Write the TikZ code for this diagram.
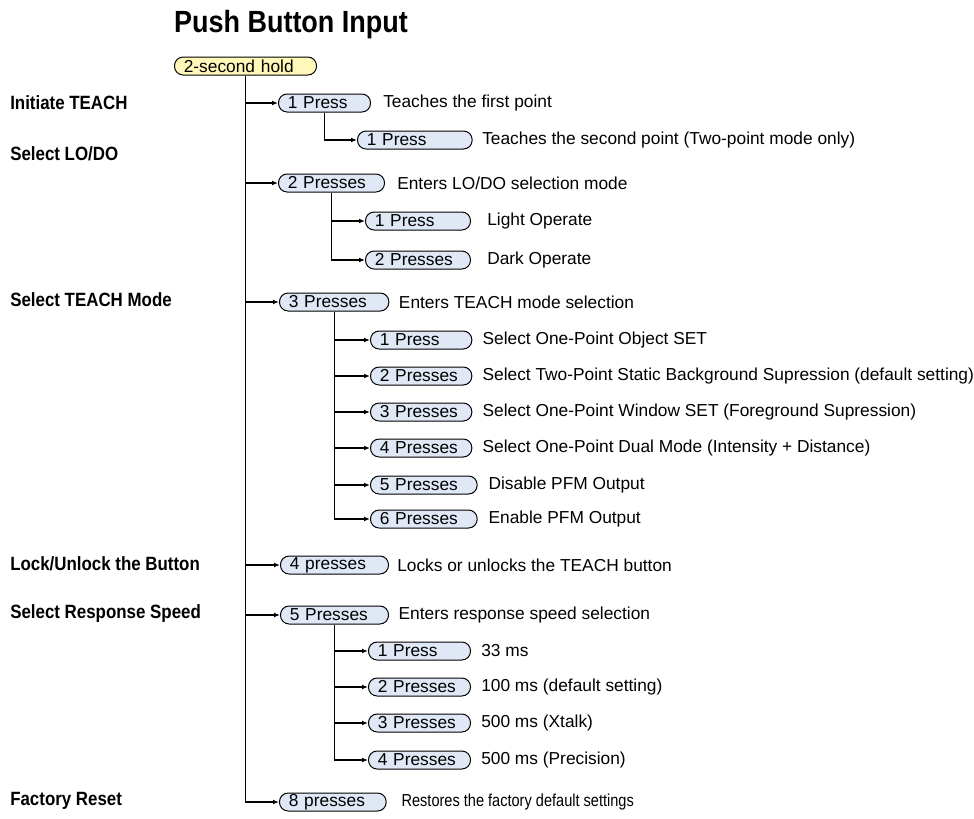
\documentclass[tikz,border=0pt]{standalone}
\usepackage{fontspec}
\setmainfont{Liberation Sans}
\newfontfamily\narrowfont[FakeStretch=0.88]{Liberation Sans}
\newfontfamily\squeezefont[FakeStretch=0.84]{Liberation Sans}
\usetikzlibrary{positioning,arrows.meta}
\definecolor{btnblue}{RGB}{224,232,246}
\definecolor{btnyellow}{RGB}{255,248,185}

\begin{document}
\begin{tikzpicture}[x=0.75pt, y=-0.75pt, >={Latex[length=4.5pt,width=3.6pt]},
    every node/.style={font=\fontsize{13}{15}\selectfont},
    btn/.style={draw, line width=0.75pt, fill=btnblue, rounded corners=6.5pt,
        minimum height=13.5pt, inner ysep=0pt, inner xsep=7pt, text width=#1,
        align=left, anchor=west},
    desc/.style={inner sep=0pt, anchor=west},
    topic/.style={inner sep=0pt, anchor=west, font=\narrowfont\fontsize{14.4}{16}\selectfont\bfseries},
    link/.style={line width=0.9pt},
    feed/.style={line width=0.9pt, ->}]
    \useasboundingbox (0,0) rectangle (974,818);
        % ==== TITLE ====
        \node[font=\narrowfont\fontsize{23}{26}\selectfont\bfseries] (title) at (291,25) {Push Button Input};
        \node[btn=92.5pt, fill=btnyellow] (hold) at (174,66) {2-second hold};

        % ==== LEFT LABELS ====
        \node[topic] (tInit) at (10,103) {Initiate TEACH};
        \node[topic] (tLoDo) at (10,154) {Select LO/DO};
        \node[topic] (tMode) at (10,300) {Select TEACH Mode};
        \node[topic] (tLock) at (10,564) {Lock/Unlock the Button};
        \node[topic] (tSpeed) at (10,614) {Select Response Speed};
        \node[topic] (tReset) at (10,801) {Factory Reset};

        % ==== INITIATE TEACH ====
        \node[btn=55pt] (a) at (278,103) {1 Press};
        \node[desc, right=9pt of a] (aTxt) {Teaches the first point};
        \node[btn=72pt] (a1) at (357,140) {1 Press};
        \node[desc, right=7pt of a1] (a1Txt) {Teaches the second point (Two-point mode only)};

        % ==== LO/DO ====
        \node[btn=65.5pt] (b) at (278,183) {2 Presses};
        \node[desc, right=9pt of b] (bTxt) {Enters LO/DO selection mode};
        \node[btn=64.75pt] (b1) at (365,221) {1 Press};
        \node[desc, right=12pt of b1] (b1Txt) {Light Operate};
        \node[btn=64.75pt] (b2) at (365,260) {2 Presses};
        \node[desc, right=12pt of b2] (b2Txt) {Dark Operate};

        % ==== TEACH MODE ====
        \node[btn=68pt] (c) at (279,302) {3 Presses};
        \node[desc, right=7pt of c] (cTxt) {Enters TEACH mode selection};
        \node[btn=62pt] (c1) at (370,340) {1 Press};
        \node[desc, right=7.5pt of c1] (c1Txt) {Select One-Point Object SET};
        \node[btn=62pt] (c2) at (370,376) {2 Presses};
        \node[desc, right=7.5pt of c2] (c2Txt) {Select Two-Point Static Background Supression (default setting)};
        \node[btn=62pt] (c3) at (370,412) {3 Presses};
        \node[desc, right=7.5pt of c3] (c3Txt) {Select One-Point Window SET (Foreground Supression)};
        \node[btn=62pt] (c4) at (370,448) {4 Presses};
        \node[desc, right=7.5pt of c4] (c4Txt) {Select One-Point Dual Mode (Intensity + Distance)};
        \node[btn=66pt] (c5) at (370,485) {5 Presses};
        \node[desc, right=8pt of c5] (c5Txt) {Disable PFM Output};
        \node[btn=66pt] (c6) at (370,519) {6 Presses};
        \node[desc, right=8pt of c6] (c6Txt) {Enable PFM Output};

        % ==== LOCK ====
        \node[btn=67pt] (d) at (280,565) {4 presses};
        \node[desc, right=6pt of d] (dTxt) {Locks or unlocks the TEACH button};

        % ==== RESPONSE SPEED ====
        \node[btn=67pt] (e) at (280,615) {5 Presses};
        \node[desc, right=7pt of e] (eTxt) {Enters response speed selection};
        \node[btn=62.5pt] (e1) at (368,651) {1 Press};
        \node[desc, right=7.5pt of e1] (e1Txt) {33 ms};
        \node[btn=62.5pt] (e2) at (368,687) {2 Presses};
        \node[desc, right=7.5pt of e2] (e2Txt) {100 ms (default setting)};
        \node[btn=62.5pt] (e3) at (368,723) {3 Presses};
        \node[desc, right=7.5pt of e3] (e3Txt) {500 ms (Xtalk)};
        \node[btn=62.5pt] (e4) at (368,760) {4 Presses};
        \node[desc, right=7.5pt of e4] (e4Txt) {500 ms (Precision)};

        % ==== RESET ====
        \node[btn=66pt] (f) at (279,802) {8 presses};
        \node[desc, right=11pt of f, font=\squeezefont\fontsize{13}{15}\selectfont] (fTxt) {Restores the factory default settings};

        % ==== CONNECTORS ====
        \draw[feed] (hold.south) |- (f.west);
        \foreach \n in {a,b,c,d,e}
            \draw[feed] (hold.south |- \n.west) -- (\n.west);
        \draw[feed] (a.south) |- (a1.west);
        \draw[feed] (b.south) |- (b2.west);
        \draw[feed] (b.south |- b1.west) -- (b1.west);
        \draw[feed] (c.south) |- (c6.west);
        \foreach \n in {c1,c2,c3,c4,c5}
            \draw[feed] (c.south |- \n.west) -- (\n.west);
        \draw[feed] (e.south) |- (e4.west);
        \foreach \n in {e1,e2,e3}
            \draw[feed] (e.south |- \n.west) -- (\n.west);
\end{tikzpicture}
\end{document}
